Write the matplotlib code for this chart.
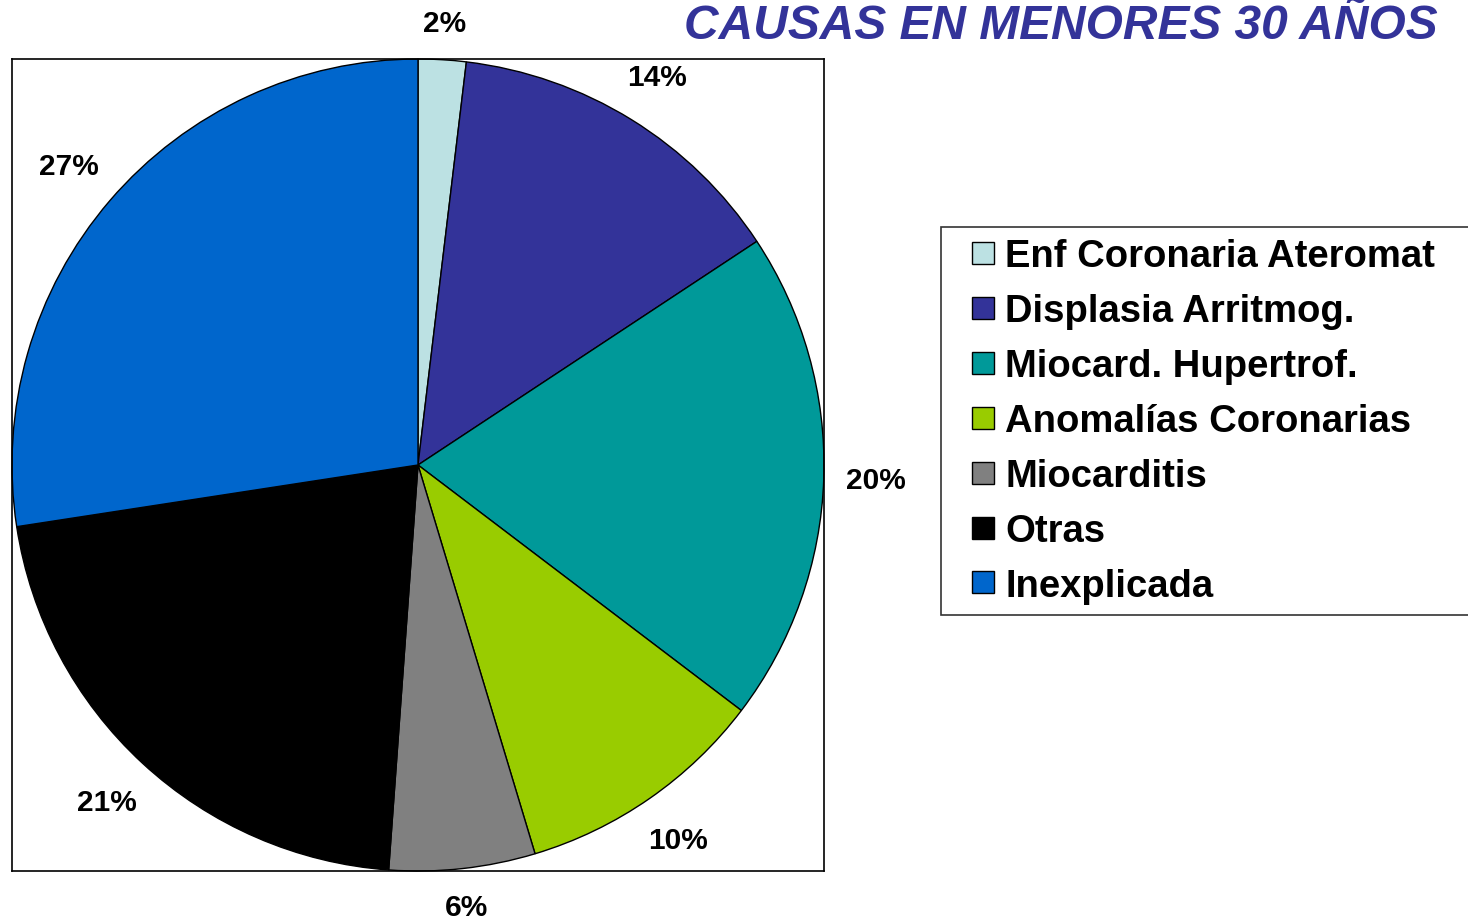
import matplotlib
matplotlib.use("Agg")
from matplotlib import pyplot as plt
from matplotlib.patches import Patch, Rectangle
from matplotlib.legend_handler import HandlerPatch
import numpy as np

# slice shares (percent)
causas = ["Enf Coronaria Ateromat", "Displasia Arritmog.", "Miocard. Hupertrof.",
          "Anomalías Coronarias", "Miocarditis", "Otras", "Inexplicada"]
porcentajes = [1.9, 13.8, 19.6, 10.0, 5.8, 21.4, 27.4]
colores = ["#BCE1E3", "#333399", "#009999", "#99CC00", "#808080", "#000000", "#0066CC"]
titulo = "CAUSAS EN MENORES 30 AÑOS"

plt.rcParams["font.family"] = ["Liberation Sans", "DejaVu Sans"]

W, H = 1468, 920
fig = plt.figure(figsize=(W / 100, H / 100), dpi=100)

# pie axes: center (418, 466) px, radius 406 px
cx, cy, r = 418, 466, 406
ax = fig.add_axes([(cx - r) / W, (H - cy - r) / H, 2 * r / W, 2 * r / H])

wedges, texts, autotexts = ax.pie(
    porcentajes, colors=colores, startangle=90, counterclock=False,
    autopct=lambda p: "%d%%" % round(p), pctdistance=1.1,
    wedgeprops=dict(edgecolor="black", linewidth=1.0),
    textprops=dict(fontsize=21.5, fontweight="bold", color="black"),
)
for w in wedges:
    w.set_clip_on(False)

ax.set_xlim(-1, 1)
ax.set_ylim(-1, 1)
ax.set_aspect("equal")
ax.set_frame_on(True)
ax.set_xticks([])
ax.set_yticks([])
for s in ax.spines.values():
    s.set_linewidth(1.2)
    s.set_color("black")

# put each label just outside the rim, like Excel does (gap + half box size)
renderer = fig.canvas.get_renderer()
gap = 22
for w, t in zip(wedges, autotexts):
    t.set_clip_on(False)
    ang = np.deg2rad((w.theta1 + w.theta2) / 2)
    bb = t.get_window_extent(renderer)
    proj = abs(np.cos(ang)) * bb.width / 2 + abs(np.sin(ang)) * bb.height / 2
    d = 1 + (gap + proj) / r
    t.set_position((d * np.cos(ang), d * np.sin(ang)))

fig.text(1438 / W, 1 - 39 / H, titulo, ha="right", va="baseline",
         fontsize=34.5, fontweight="bold", fontstyle="italic", color="#333399")


def cuadro(legend, orig_handle, xdescent, ydescent, width, height, fontsize):
    sq = 22 * 0.72
    return Rectangle((-xdescent + width - sq, -ydescent + (height - sq) / 2), sq, sq)


handles = [Patch(facecolor=c, edgecolor="black", linewidth=1.0) for c in colores]
leg = fig.legend(handles, causas, loc="upper left",
                 bbox_to_anchor=(941 / W, 0, 600 / W, 1 - 228 / H), mode="expand",
                 prop=dict(size=27.5, weight="bold"),
                 handler_map={Patch: HandlerPatch(patch_func=cuadro)},
                 handlelength=1.08, handleheight=0.6, handletextpad=0.3,
                 labelspacing=0.495, borderpad=0.3, borderaxespad=0,
                 frameon=True, fancybox=False, edgecolor="black")
leg.get_frame().set_linewidth(1.2)

fig.savefig("out.png", dpi=100, facecolor="white")
